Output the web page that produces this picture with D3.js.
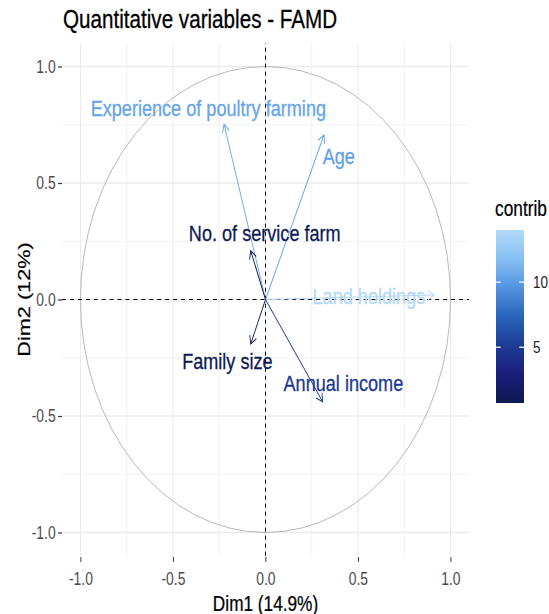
<!DOCTYPE html>
<html>
<head>
<meta charset="utf-8">
<script src="https://cdn.jsdelivr.net/npm/d3@7"></script>
<style>
  html, body { margin: 0; padding: 0; background: #fff; }
  svg { display: block; font-family: "Liberation Sans", Arial, sans-serif; }
</style>
</head>
<body>
<svg id="chart" width="549" height="614"></svg>
<script>
// ---- data ----
const variables = ["Experience of poultry farming", "Age", "No. of service farm", "Land holdings", "Family size", "Annual income"];
const dim1 = [-0.224, 0.316, -0.080, 0.912, -0.080, 0.309];
const dim2 = [0.752, 0.706, 0.209, 0.019, -0.191, -0.439];
const contrib = [10.4, 10.1, 0.84, 14.0, 0.72, 4.85];
// repelled label anchor points (data units)
const labelDim1 = [-0.309, 0.396, -0.004, 0.559, -0.206, 0.421];
const labelDim2 = [0.822, 0.615, 0.287, 0.014, -0.265, -0.357];
const axisTicks = [-1.0, -0.5, 0.0, 0.5, 1.0];
const minorTicks = [-0.75, -0.25, 0.25, 0.75];
const legendTicks = [5, 10];
const titleText = "Quantitative variables - FAMD";
const xTitle = "Dim1 (14.9%)";
const yTitle = "Dim2 (12%)";
const legendTitle = "contrib";

// ---- layout ----
const k = 0.794; // horizontal squeeze of the original image
const svg = d3.select("#chart");
const g = svg.append("g").attr("transform", `scale(${k},1)`);

const x = d3.scaleLinear().domain([-1.1, 1.1]).range([62 / k, 469 / k]);
const y = d3.scaleLinear().domain([-1.1, 1.1]).range([555.8, 43.2]);

const cmin = d3.min(contrib), cmax = d3.max(contrib);
const colorStops = ["#0e1a52", "#1b1d7c", "#1c3a92", "#2866bd", "#5c9de6", "#8bc3f3", "#b4d9f9"];
const stopVals = [cmin, 3, 5, 7.5, 10, 12, cmax];
const color = d3.scaleLinear().domain(stopVals).range(colorStops).interpolate(d3.interpolateLab);

// grid
const grid = g.append("g");
minorTicks.forEach(v => {
  grid.append("line").attr("x1", x(v)).attr("x2", x(v)).attr("y1", y.range()[0]).attr("y2", y.range()[1])
    .attr("stroke", "#ebebeb").attr("stroke-width", 0.8);
  grid.append("line").attr("y1", y(v)).attr("y2", y(v)).attr("x1", x.range()[0]).attr("x2", x.range()[1])
    .attr("stroke", "#ebebeb").attr("stroke-width", 0.8);
});
axisTicks.forEach(v => {
  grid.append("line").attr("x1", x(v)).attr("x2", x(v)).attr("y1", y.range()[0]).attr("y2", y.range()[1])
    .attr("stroke", "#ebebeb").attr("stroke-width", 1.3);
  grid.append("line").attr("y1", y(v)).attr("y2", y(v)).attr("x1", x.range()[0]).attr("x2", x.range()[1])
    .attr("stroke", "#ebebeb").attr("stroke-width", 1.3);
});

// unit circle
g.append("ellipse").attr("cx", x(0)).attr("cy", y(0))
  .attr("rx", x(1) - x(0)).attr("ry", y(0) - y(1))
  .attr("fill", "none").attr("stroke", "#b0b0b0").attr("stroke-width", 1);

// dashed reference lines
g.append("line").attr("x1", x(0)).attr("x2", x(0)).attr("y1", y.range()[0]).attr("y2", y.range()[1])
  .attr("stroke", "#000").attr("stroke-width", 1.2).attr("stroke-dasharray", "4,4");
g.append("line").attr("y1", y(0)).attr("y2", y(0)).attr("x1", x.range()[0]).attr("x2", x.range()[1])
  .attr("stroke", "#000").attr("stroke-width", 1.1).attr("stroke-dasharray", "5,5");

// axes
const fmt = d => d.toFixed(1);
const xAxis = g.append("g").attr("transform", "translate(0,557)")
  .call(d3.axisBottom(x).tickValues(axisTicks).tickFormat(fmt).tickSize(5).tickPadding(10.6));
const yAxis = g.append("g").attr("transform", `translate(${x.range()[0]},0)`)
  .call(d3.axisLeft(y).tickValues(axisTicks).tickFormat(fmt).tickSize(5).tickPadding(3));
[xAxis, yAxis].forEach(a => {
  a.select(".domain").remove();
  a.selectAll(".tick line").attr("stroke", "#333").attr("stroke-width", 1.2);
  a.selectAll(".tick text").attr("fill", "#4d4d4d").style("font-size", "17.5px")
    .style("font-family", '"Liberation Sans", Arial, sans-serif');
});

// arrows
const idx = d3.range(variables.length);
const head = 9, ang = Math.PI / 6;
const arrows = g.append("g");
idx.forEach(i => {
  const x0 = x(0), y0 = y(0), x1 = x(dim1[i]), y1 = y(dim2[i]);
  const c = color(contrib[i]);
  arrows.append("line").attr("x1", x0).attr("y1", y0).attr("x2", x1).attr("y2", y1)
    .attr("stroke", c).attr("stroke-width", 1.1);
  const th = Math.atan2(y1 - y0, x1 - x0);
  const p = [th + Math.PI - ang, th + Math.PI + ang].map(a => [x1 + head * Math.cos(a), y1 + head * Math.sin(a)]);
  arrows.append("path").attr("d", `M${p[0][0]},${p[0][1]}L${x1},${y1}L${p[1][0]},${p[1][1]}`)
    .attr("fill", "none").attr("stroke", c).attr("stroke-width", 1.1);
});

// labels
g.append("g").selectAll("text").data(idx).join("text")
  .attr("x", i => x(labelDim1[i])).attr("y", i => y(labelDim2[i]))
  .attr("dy", "0.36em").attr("text-anchor", "middle")
  .attr("fill", i => color(contrib[i]))
  .attr("stroke", i => color(contrib[i])).attr("stroke-width", 0.3)
  .style("font-size", "22.8px")
  .text(i => variables[i]);

// title
g.append("text").attr("x", 63 / k).attr("y", 28).style("font-size", "26px").attr("fill", "#000")
  .attr("stroke", "#000").attr("stroke-width", 0.3).text(titleText);

// axis titles
g.append("text").attr("x", x(0)).attr("y", 611).attr("text-anchor", "middle")
  .style("font-size", "21.7px").attr("fill", "#000").attr("stroke", "#000").attr("stroke-width", 0.25).text(xTitle);
g.append("text").attr("transform", `translate(${30 / k},${y(0)}) rotate(-90)`).attr("text-anchor", "middle")
  .style("font-size", "21.7px").attr("fill", "#000").attr("stroke", "#000").attr("stroke-width", 0.25).text(yTitle);

// legend
const ly = d3.scaleLinear().domain([cmin, cmax]).range([403, 230]);
const lx0 = 496 / k, lx1 = 524 / k;
const defs = svg.append("defs");
const grad = defs.append("linearGradient").attr("id", "cgrad").attr("x1", 0).attr("x2", 0).attr("y1", 1).attr("y2", 0);
d3.range(0, 1.0001, 0.05).forEach(t => {
  grad.append("stop").attr("offset", t).attr("stop-color", color(cmin + t * (cmax - cmin)));
});
g.append("rect").attr("x", lx0).attr("y", ly(cmax)).attr("width", lx1 - lx0).attr("height", ly(cmin) - ly(cmax))
  .attr("fill", "url(#cgrad)");
legendTicks.forEach(v => {
  g.append("line").attr("x1", lx0).attr("x2", lx0 + 6).attr("y1", ly(v)).attr("y2", ly(v)).attr("stroke", "#fff").attr("stroke-width", 1.2);
  g.append("line").attr("x1", lx1 - 6).attr("x2", lx1).attr("y1", ly(v)).attr("y2", ly(v)).attr("stroke", "#fff").attr("stroke-width", 1.2);
  g.append("text").attr("x", 533 / k).attr("y", ly(v)).attr("dy", "0.36em").style("font-size", "17px").attr("fill", "#222").text(v);
});
g.append("text").attr("x", 495 / k).attr("y", 216).style("font-size", "21.8px").attr("fill", "#000")
  .attr("stroke", "#000").attr("stroke-width", 0.25).text(legendTitle);
</script>
</body>
</html>
